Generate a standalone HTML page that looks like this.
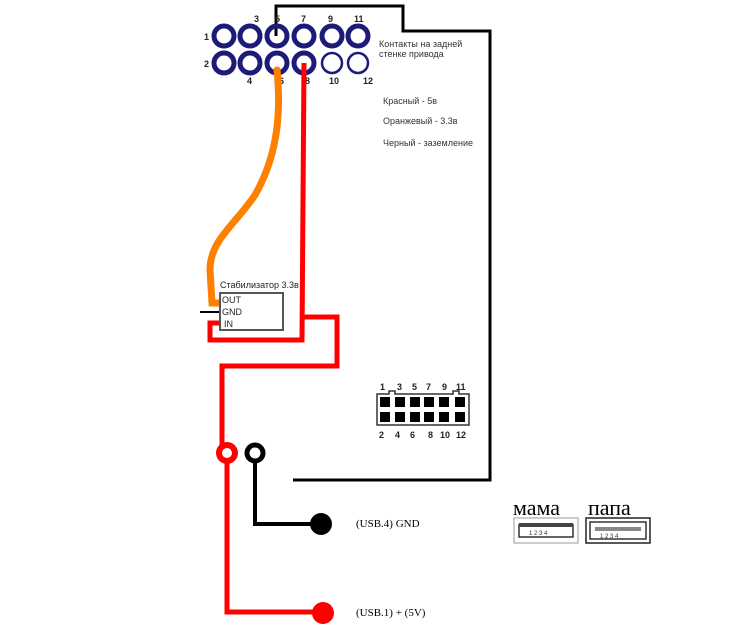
<!DOCTYPE html>
<html><head><meta charset="utf-8"><style>
html,body{margin:0;padding:0;background:#fff;}
svg{display:block;font-family:"Liberation Sans",sans-serif;}
</style></head><body>
<svg width="747" height="638" viewBox="0 0 747 638" xmlns="http://www.w3.org/2000/svg">
<rect width="747" height="638" fill="#fff"/>
<polyline points="276,36 276,6 403,6 403,31 490,31 490,480 293,480" fill="none" stroke="#000" stroke-width="3"/>
<g fill="none" stroke="#1c1c78" stroke-width="5">
<circle cx="224" cy="36" r="10"/><circle cx="250" cy="36" r="10"/><circle cx="277" cy="36" r="10"/><circle cx="304" cy="36" r="10"/><circle cx="332" cy="36" r="10"/><circle cx="358" cy="36" r="10"/>
<circle cx="224" cy="63" r="10"/><circle cx="250" cy="63" r="10"/><circle cx="277" cy="63" r="10"/><circle cx="304" cy="63" r="10"/>
</g>
<g fill="none" stroke="#1c1c78" stroke-width="2.5"><circle cx="332" cy="63" r="10"/><circle cx="358" cy="63" r="10"/></g>
<g font-size="9" font-weight="bold" fill="#222">
<text x="204" y="40">1</text><text x="204" y="67">2</text>
<text x="254" y="22">3</text><text x="275" y="22">5</text><text x="301" y="22">7</text><text x="328" y="22">9</text><text x="354" y="22">11</text>
<text x="247" y="84">4</text><text x="279" y="84">6</text><text x="305" y="84">8</text><text x="329" y="84">10</text><text x="363" y="84">12</text>
</g>
<g font-size="9" fill="#333">
<text x="379" y="47">Контакты на задней</text><text x="379" y="57">стенке привода</text>
<text x="383" y="104">Красный - 5в</text><text x="383" y="124">Оранжевый - 3.3в</text><text x="383" y="146">Черный - заземление</text>
</g>
<path d="M277,70 C282,120 275,160 255,195 C235,225 210,240 210,270 L212,303 L220,303" fill="none" stroke="#ff8000" stroke-width="7" stroke-linecap="round"/>
<g fill="none" stroke="#ff0000" stroke-width="5">
<polyline points="304,63 302,340 210,340 210,323 222,323"/>
<polyline points="302,317 337,317 337,366 222,366 222,448"/>
<polyline points="227,460 227,612 320,612"/>
</g>
<circle cx="227" cy="453" r="8" fill="#fff" stroke="#ff0000" stroke-width="6"/>
<circle cx="323" cy="613" r="11" fill="#ff0000"/>
<polyline points="255,460 255,524 318,524" fill="none" stroke="#000" stroke-width="4"/>
<circle cx="255" cy="453" r="8" fill="#fff" stroke="#000" stroke-width="5"/>
<circle cx="321" cy="524" r="11" fill="#000"/>
<line x1="200" y1="312" x2="220" y2="312" stroke="#000" stroke-width="2"/>
<rect x="220" y="293" width="63" height="37" fill="#fff" stroke="#555" stroke-width="2"/>
<g font-size="9" fill="#222"><text x="220" y="288">Стабилизатор 3.3в</text>
<text x="222" y="303">OUT</text><text x="222" y="315">GND</text><text x="224" y="327">IN</text></g>
<path d="M377,394 L389,394 L389,391 L395,391 L395,394 L453,394 L453,391 L459,391 L459,394 L469,394 L469,425 L377,425 Z" fill="#fff" stroke="#333" stroke-width="1.5"/>
<g fill="#000">
<rect x="380" y="397" width="10" height="10"/><rect x="395" y="397" width="10" height="10"/><rect x="410" y="397" width="10" height="10"/><rect x="424" y="397" width="10" height="10"/><rect x="439" y="397" width="10" height="10"/><rect x="455" y="397" width="10" height="10"/>
<rect x="380" y="412" width="10" height="10"/><rect x="395" y="412" width="10" height="10"/><rect x="410" y="412" width="10" height="10"/><rect x="424" y="412" width="10" height="10"/><rect x="439" y="412" width="10" height="10"/><rect x="455" y="412" width="10" height="10"/>
</g>
<g font-size="9" font-weight="bold" fill="#222">
<text x="380" y="390">1</text><text x="397" y="390">3</text><text x="412" y="390">5</text><text x="426" y="390">7</text><text x="442" y="390">9</text><text x="456" y="390">11</text>
<text x="379" y="438">2</text><text x="395" y="438">4</text><text x="410" y="438">6</text><text x="428" y="438">8</text><text x="440" y="438">10</text><text x="456" y="438">12</text>
</g>
<g font-family="Liberation Serif,serif" font-size="11" fill="#000">
<text x="356" y="527">(USB.4) GND</text><text x="356" y="616">(USB.1) + (5V)</text>
</g>
<g font-family="Liberation Serif,serif" font-size="22" fill="#000"><text x="513" y="515">мама</text><text x="588" y="515">папа</text></g>
<rect x="514" y="518" width="64" height="25" fill="#fff" stroke="#bbb" stroke-width="1.5"/>
<path d="M519,525 L573,525 L573,537 L519,537 Z" fill="none" stroke="#333" stroke-width="1.5"/>
<rect x="519" y="523" width="54" height="4" fill="#444"/>
<rect x="586" y="518" width="64" height="25" fill="#fff" stroke="#222" stroke-width="1.5"/>
<rect x="590" y="522" width="56" height="17" fill="none" stroke="#333" stroke-width="1.5"/>
<rect x="595" y="527" width="46" height="4" fill="#888"/>
<g font-size="6" fill="#333"><text x="529" y="535">1 2 3 4</text><text x="600" y="538">1 2 3 4</text></g>
</svg>
</body></html>
